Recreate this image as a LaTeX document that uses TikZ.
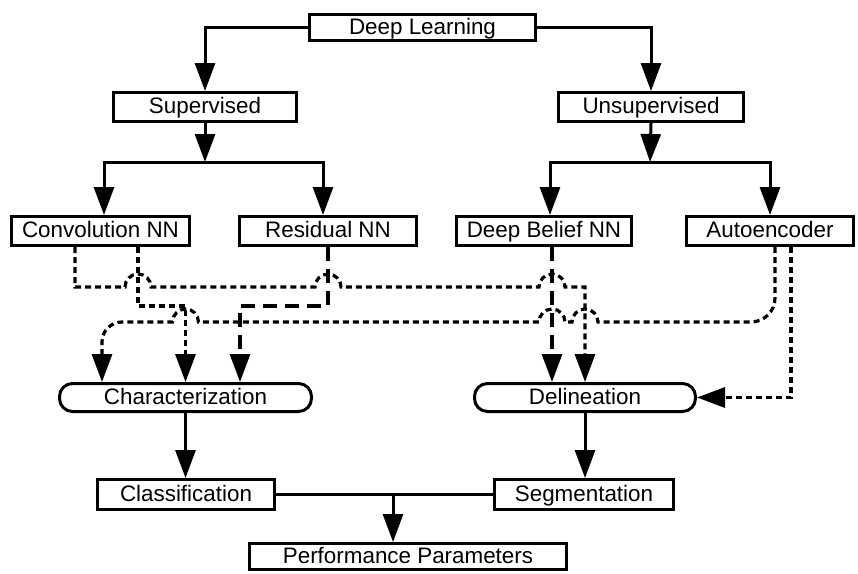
\documentclass[tikz,border=0pt]{standalone}
\usepackage{fontspec}
\setmainfont{Liberation Sans}
\usetikzlibrary{arrows.meta}

\begin{document}
\begin{tikzpicture}[x=1pt, y=-1pt,
    box/.style={draw, line width=3pt, inner sep=0pt, text height=17.5pt, text depth=4.5pt,
        font=\fontsize{22.4}{26}\selectfont},
    pill/.style={box, rounded corners=13pt},
    line/.style={line width=3pt},
    flow/.style={line, -{Triangle[length=28pt,width=20pt]}},
    shortdash/.style={line width=3.2pt, dash pattern=on 6pt off 4pt},
    longdash/.style={line width=3.2pt, dash pattern=on 14pt off 8pt}]
    \useasboundingbox (0,0) rectangle (858,573);

    % boxes
    \node[box, minimum width=226pt, minimum height=26pt] (deep) at (422.5,27.5) {Deep Learning};
    \node[box, minimum width=183pt, minimum height=29pt] (sup) at (205,107) {Supervised};
    \node[box, minimum width=185pt, minimum height=29pt] (unsup) at (651,107) {Unsupervised};
    \node[box, minimum width=178pt, minimum height=29pt] (conv) at (100.5,231) {Convolution NN};
    \node[box, minimum width=177pt, minimum height=29pt] (resid) at (328,231) {Residual NN};
    \node[box, minimum width=175pt, minimum height=29pt] (dbn) at (544,231) {Deep Belief NN};
    \node[box, minimum width=167pt, minimum height=29pt] (auto) at (770,231) {Autoencoder};
    \node[pill, minimum width=252pt, minimum height=28pt] (char) at (185.5,397.5) {Characterization};
    \node[pill, minimum width=221pt, minimum height=28pt] (delin) at (585,397.5) {Delineation};
    \node[box, minimum width=177pt, minimum height=30pt] (cls) at (186,494.5) {Classification};
    \node[box, minimum width=179pt, minimum height=30pt] (seg) at (584,494.5) {Segmentation};
    \node[box, minimum width=317pt, minimum height=26pt] (perf) at (408,556.5) {Performance Parameters};

    % tree
    \coordinate (supfork) at (205,162);
    \coordinate (unsfork) at (650,162);
    \draw[flow] (deep.west) -| (sup.north);
    \draw[flow] (deep.east) -| (unsup.north);
    \draw[flow] (sup.south) -- (supfork);
    \draw[flow] (supfork) -| ([xshift=3.5pt]conv.north);
    \draw[flow] (supfork) -| ([xshift=-5pt]resid.north);
    \draw[flow] (unsup.south) -- (unsfork);
    \draw[flow] (unsfork) -| ([xshift=6pt]dbn.north);
    \draw[flow] (unsfork) -| (auto.north);

    % Convolution NN -> Delineation
    \draw[flow, shortdash] ([xshift=-25.5pt]conv.south) |- (125,287)
        arc[start angle=180, end angle=360, radius=13] -- (315,287)
        arc[start angle=180, end angle=360, radius=13] -- (539,287)
        arc[start angle=180, end angle=360, radius=13] -| (delin.north);
    % Convolution NN -> Characterization
    \draw[flow, shortdash] ([xshift=37.5pt]conv.south) |- (185.5,306) -- (char.north);
    % Residual NN -> Characterization
    \draw[flow, longdash] (resid.south) -- (328,306) -| ([xshift=54.5pt]char.north);
    % Deep Belief NN -> Delineation
    \draw[flow, longdash] ([xshift=8pt]dbn.south) -- ([xshift=-33pt]delin.north);
    % Autoencoder -> Characterization
    \draw[flow, shortdash] ([xshift=5pt]auto.south) -- (775,298)
        arc[start angle=0, end angle=90, radius=24] -- (598,322)
        arc[start angle=0, end angle=-180, radius=13] -- (565,322)
        arc[start angle=0, end angle=-180, radius=13] -- (198.5,322)
        arc[start angle=0, end angle=-180, radius=13] -- (122,322)
        arc[start angle=270, end angle=180, radius=20] -- ([xshift=-83.5pt]char.north);
    % Autoencoder -> Delineation
    \draw[flow, shortdash] ([xshift=21pt]auto.south) |- (delin.east);

    % results
    \draw[flow] (char.south) -- (char.south |- cls.north);
    \draw[flow] (delin.south) -- (delin.south |- seg.north);
    \draw[line] (cls.east) -- (seg.west);
    \coordinate (join) at (393,494.5);
    \draw[flow] (join) -- (join |- perf.north);
\end{tikzpicture}
\end{document}
